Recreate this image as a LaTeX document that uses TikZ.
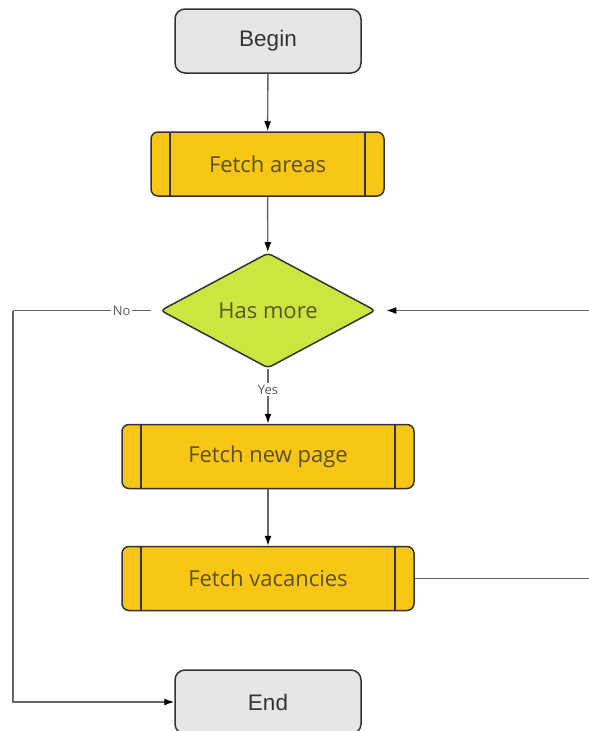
\documentclass[tikz,border=0pt]{standalone}
\usepackage{fontspec}
\setmainfont{Open Sans}
\newfontfamily\termfont{Liberation Sans}
\usetikzlibrary{shapes.geometric,arrows.meta}
\definecolor{termfill}{HTML}{E6E6E6}
\definecolor{procfill}{HTML}{F8C614}
\definecolor{decfill}{HTML}{CDE53F}
\definecolor{border}{HTML}{333333}
\definecolor{proctext}{HTML}{5C5022}
\definecolor{dectext}{HTML}{545A26}
\definecolor{wire}{HTML}{666666}
\tikzset{
  terminal/.style={draw=border, line width=1.5pt, fill=termfill, rounded corners=10pt,
    minimum width=186pt, minimum height=64pt, inner sep=0pt,
    font=\termfont\fontsize{22.5}{26}\selectfont, text=black!80},
  process/.style={draw=border, line width=1.5pt, fill=procfill, rounded corners=7pt,
    minimum height=64pt, inner sep=0pt,
    font=\fontsize{22}{26}\selectfont, text=proctext,
    path picture={
      \draw[border, line width=1.4pt]
        ([xshift=19pt]path picture bounding box.north west) --
        ([xshift=19pt]path picture bounding box.south west);
      \draw[border, line width=1.4pt]
        ([xshift=-19pt]path picture bounding box.north east) --
        ([xshift=-19pt]path picture bounding box.south east);
    }},
  decision/.style={diamond, draw=border, line width=1.5pt, fill=decfill, rounded corners=4pt,
    minimum width=215pt, minimum height=111pt, inner sep=0pt,
    font=\fontsize{22}{26}\selectfont, text=dectext},
  flow/.style={draw=wire, line width=1.4pt, -{Latex[length=10pt,width=7pt,black]}},
  tag/.style={fill=white, inner sep=2pt, font=\fontsize{13}{15}\selectfont, text=black!65}
}
\begin{document}
\begin{tikzpicture}[x=1pt,y=1pt]
  \useasboundingbox (0,0) rectangle (589,-731);
  \node[terminal] (begin) at (268,-41) {Begin};
  \node[process, minimum width=233pt] (areas) at (267.5,-164) {Fetch areas};
  \node[decision] (more) at (268,-310.5) {Has more};
  \node[process, minimum width=292pt] (page) at (268,-456.5) {Fetch new page};
  \node[process, minimum width=292pt] (vac) at (268,-578.5) {Fetch vacancies};
  \node[terminal] (end) at (268,-702) {End};
  \coordinate (rtop) at (596,-310.5);
  \coordinate (rbot) at (596,-578.5);
  \coordinate (ltop) at (13,-310.5);
  \coordinate (lbot) at (13,-702);

  \draw[flow] (begin) -- (areas);
  \draw[flow] (areas) -- (more);
  \draw[flow] (more) -- node[tag, pos=0.38] {Yes} (page);
  \draw[flow] (page) -- (vac);
  \draw[flow, shorten >=10pt] (vac.east) -- (rbot) -- (rtop) -- (more.east);
  \draw[draw=wire, line width=1.4pt, shorten <=9pt] (more.west) -- node[tag, pos=0.26] {No} (ltop);
  \draw[flow] (ltop) -- (lbot) -- (end.west);
\end{tikzpicture}
\end{document}
